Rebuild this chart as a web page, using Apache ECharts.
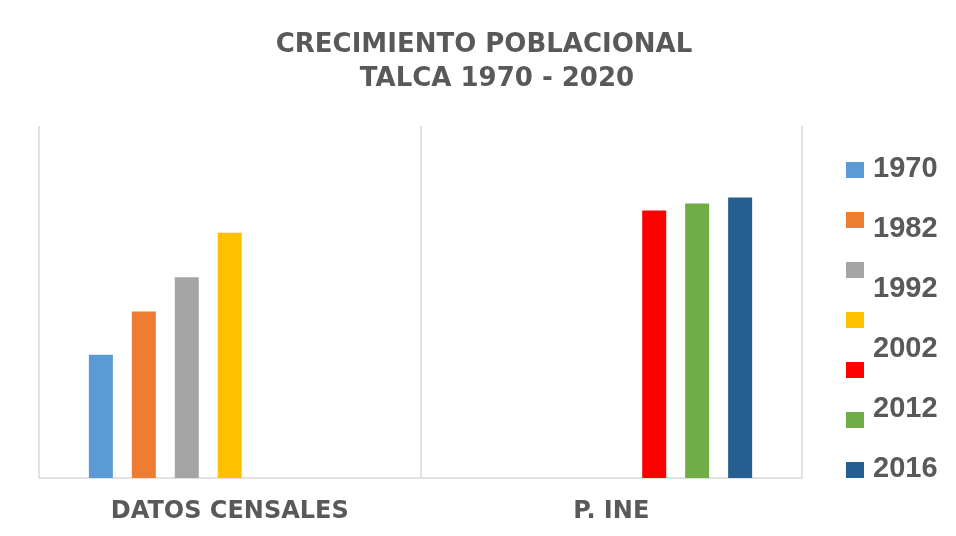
<!DOCTYPE html>
<html>
<head>
<meta charset="utf-8">
<script src="https://cdn.jsdelivr.net/npm/echarts@6/dist/echarts.min.js"></script>
<style>
  html, body { margin: 0; padding: 0; background: #fff; }
  #chart { width: 956px; height: 536px; }
</style>
</head>
<body>
<div id="chart"></div>
<script>
// data (y axis not shown, max assumed 300000)
const categories = ["DATOS CENSALES", "P. INE"];
const seriesNames = ["1970", "1982", "1992", "2002", "2002 INE", "2012", "2016"];
const colors = ["#5b9bd5", "#ed7d31", "#a5a5a5", "#ffc000", "#ff0000", "#70ad47", "#255e91"];
const censos = [105000, 142000, 171000, 209000, null, null, null];
const ine = [null, null, null, null, 228000, 234000, 239000];
const legendLabels = ["1970", "1982", "1992", "2002", "2012", "2016"];

const grey = "#595959";
const lineGrey = "#d9d9d9";

var myChart = echarts.init(document.getElementById("chart"));

const series = seriesNames.map((name, i) => ({
  name: name,
  type: "bar",
  barWidth: 24,
  barGap: "79%",
  itemStyle: { color: colors[i] },
  data: [censos[i], ine[i]],
}));

// legend labels sit apart from the squares in the original
const labelY = [168, 228, 288, 348, 408, 468];
const labels = legendLabels.map((t, i) => ({
  type: "text",
  left: 873,
  top: labelY[i] - 14,
  style: {
    text: t,
    fill: grey,
    font: "bold 29px 'Liberation Sans', sans-serif",
  },
}));

const titleStyle = {
  color: grey,
  fontFamily: "DejaVu Sans",
  fontWeight: "bold",
  fontSize: 26,
  lineHeight: 30,
};

myChart.setOption({
  animation: false,
  title: [
    { text: "CRECIMIENTO POBLACIONAL", left: 484, top: 30, textAlign: "center", padding: 0, textStyle: titleStyle },
    { text: "TALCA 1970 - 2020", left: 497, top: 64, textAlign: "center", padding: 0, textStyle: titleStyle },
  ],
  legend: {
    orient: "vertical",
    left: 846,
    top: 162,
    padding: 0,
    icon: "rect",
    itemWidth: 18,
    itemHeight: 16,
    itemGap: 34,
    formatter: () => "",
    textStyle: { fontSize: 1 },
    data: seriesNames,
  },
  grid: { left: 39, right: 154, top: 126, bottom: 58 },
  xAxis: {
    type: "category",
    data: categories,
    axisTick: { show: false },
    axisLine: { lineStyle: { color: lineGrey, width: 1.5 } },
    splitLine: { show: true, lineStyle: { color: lineGrey, width: 1.5 } },
    axisLabel: {
      color: grey,
      fontFamily: "DejaVu Sans",
      fontWeight: "bold",
      fontSize: 24,
      margin: 22,
    },
  },
  yAxis: {
    type: "value",
    min: 0,
    max: 300000,
    show: false,
    splitLine: { show: false },
  },
  series: series,
  graphic: labels,
});
</script>
</body>
</html>
